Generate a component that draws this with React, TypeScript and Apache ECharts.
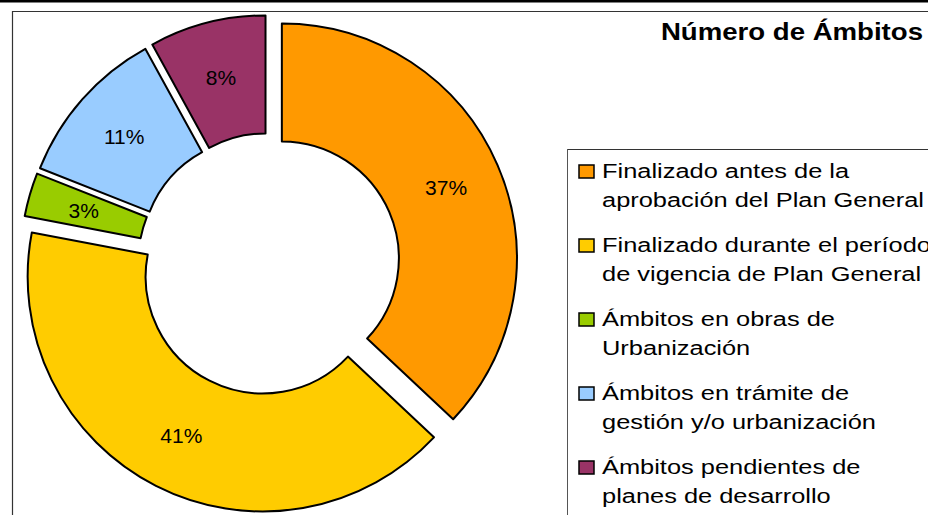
import React, { useEffect, useRef } from "react";
import * as echarts from "echarts";

const categories = [
  "Finalizado antes de la\naprobación del Plan General",
  "Finalizado durante el período\nde vigencia de Plan General",
  "Ámbitos en obras de\nUrbanización",
  "Ámbitos en trámite de\ngestión y/o urbanización",
  "Ámbitos pendientes de\nplanes de desarrollo",
];
const values = [37, 41, 3, 11, 8];
const colors = ["#FF9900", "#FFCC00", "#99CC00", "#99CCFF", "#993366"];
const title = "Número de Ámbitos";

const FONT = "'Liberation Sans', Arial, sans-serif";

export default function App() {
  const ref = useRef<HTMLDivElement>(null);
  useEffect(() => {
    if (!ref.current) return;
    const chart = echarts.init(ref.current, undefined, { renderer: "svg" });

    const legendEls: any[] = [];
    categories.forEach((name, i) => {
      legendEls.push({
        type: "rect",
        shape: { x: 579, y: 165 + i * 74, width: 15, height: 13 },
        style: { fill: colors[i], stroke: "#000", lineWidth: 1.5 },
        silent: true,
      });
      legendEls.push({
        type: "text",
        x: 602,
        y: 157 + i * 74,
        scaleX: 1.27,
        style: {
          text: name,
          fill: "#000",
          font: `20px ${FONT}`,
          lineHeight: 29,
          textAlign: "left",
          textVerticalAlign: "top",
        },
        silent: true,
      });
    });

    chart.setOption({
      animation: false,
      backgroundColor: "#fff",
      graphic: [
        { type: "rect", shape: { x: 0, y: 0, width: 928, height: 2.5 }, style: { fill: "#000" }, silent: true },
        { type: "line", shape: { x1: 12, y1: 11.5, x2: 928, y2: 11.5 }, style: { stroke: "#333", lineWidth: 1.2 }, silent: true },
        { type: "line", shape: { x1: 12.5, y1: 11, x2: 12.5, y2: 515 }, style: { stroke: "#333", lineWidth: 1.2 }, silent: true },
        { type: "line", shape: { x1: 567, y1: 149.5, x2: 928, y2: 149.5 }, style: { stroke: "#333", lineWidth: 1 }, silent: true },
        { type: "line", shape: { x1: 567.5, y1: 149, x2: 567.5, y2: 515 }, style: { stroke: "#555", lineWidth: 1 }, silent: true },
        {
          type: "text",
          x: 923,
          y: 32,
          scaleX: 1.2,
          style: {
            text: title,
            fill: "#000",
            font: `bold 23px ${FONT}`,
            textAlign: "right",
            textVerticalAlign: "middle",
          },
          silent: true,
        },
        ...legendEls,
      ],
      series: [
        {
          type: "pie",
          center: [269, 264],
          radius: [117, 235],
          startAngle: 90,
          clockwise: true,
          selectedMode: "multiple",
          selectedOffset: 14,
          avoidLabelOverlap: false,
          emphasis: { disabled: true },
          itemStyle: { borderColor: "#000", borderWidth: 2 },
          label: {
            show: true,
            position: "inside",
            formatter: "{c}%",
            color: "#000",
            fontFamily: FONT,
            fontSize: 21,
          },
          labelLine: { show: false },
          data: categories.map((name, i) => ({
            name,
            value: values[i],
            selected: true,
            itemStyle: { color: colors[i] },
            select: { itemStyle: { color: colors[i], borderColor: "#000", borderWidth: 2 } },
          })),
        },
      ],
    });
    return () => chart.dispose();
  }, []);
  return (
    <div
      ref={ref}
      style={{ position: "absolute", left: 0, top: 0, width: 928, height: 515 }}
    />
  );
}
